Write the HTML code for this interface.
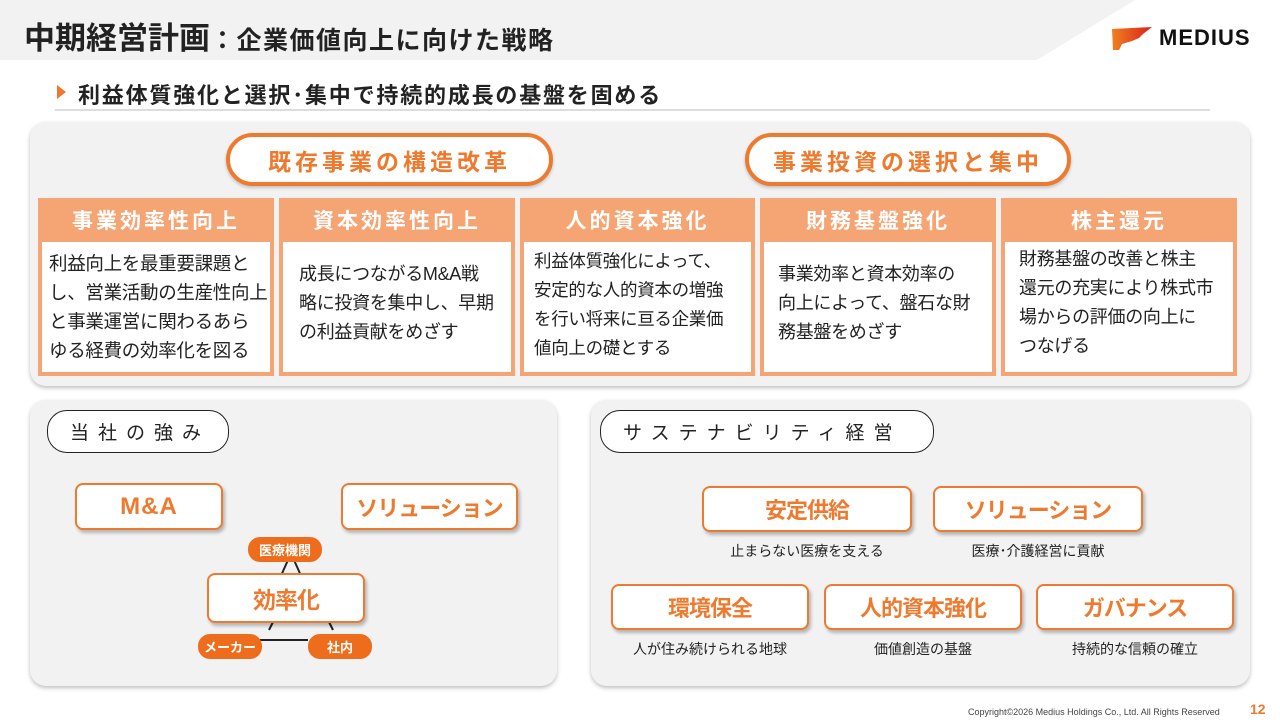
<!DOCTYPE html>
<html><head><meta charset="utf-8"><style>
*{margin:0;padding:0;box-sizing:border-box}
body{width:1280px;height:720px;position:relative;background:#fff;font-family:"Liberation Sans","Noto Sans CJK JP",sans-serif;overflow:hidden;color:#222}
.a{position:absolute}
.card{background:#f2f2f2;border-radius:16px;box-shadow:0 2px 4px rgba(0,0,0,.25)}
.pill{border:4px solid #ee7a2f;border-radius:28px;background:#fff;color:#ee7a2f;font-weight:bold;font-size:23px;letter-spacing:4px;display:flex;align-items:center;justify-content:center;box-shadow:0 2px 3px rgba(0,0,0,.2)}
.col{background:#f5a473;}
.col .h{height:44px;color:#fff;font-weight:bold;font-size:21px;letter-spacing:3px;display:flex;align-items:center;justify-content:center}
.col .b{position:absolute;left:4px;right:4px;top:44px;bottom:4px;background:#fff;font-size:17.5px;line-height:29px;display:flex;align-items:center;padding:0 8px;white-space:nowrap;letter-spacing:-0.3px}
.ob{border:2.5px solid #ee7a2f;border-radius:8px;background:#fff;color:#ee7a2f;font-weight:bold;display:flex;align-items:center;justify-content:center;box-shadow:2px 3px 3px rgba(0,0,0,.25);letter-spacing:-1px;white-space:nowrap}
.tag{border:1.5px solid #222;border-radius:20px;background:#fff;font-size:19px;letter-spacing:9px;display:flex;align-items:center;padding-left:22px}
.of{background:#ee6d1c;color:#fff;font-weight:bold;font-size:13px;border-radius:12px;display:flex;align-items:center;justify-content:center}
.cap{font-size:14px;text-align:center;color:#222}
</style></head><body>
<svg class="a" style="left:0;top:0" width="1280" height="720">
<defs><linearGradient id="g" x1="0" x2="1"><stop offset="0" stop-color="#f08020"/><stop offset="1" stop-color="#d8201c"/></linearGradient></defs>
<polygon points="0,0 1135,0 1037,60 0,60" fill="#f2f2f2"/>
<line x1="55" y1="110" x2="1210" y2="110" stroke="#bbb" stroke-width="1"/>
<polygon points="57,85 66,92 57,99" fill="#ee7a2f"/>
<polygon points="1112,29 1152,27 1143,34 1139,38 1132,41 1122,44 1119,50 1113,50" fill="url(#g)"/>
<path d="M560,480 L595,660 M595,470 L560,650" stroke="#fff" stroke-width="5" opacity=".9"/>
</svg>
<div class="a" style="left:24px;top:13px;font-size:31px;font-weight:bold;color:#222;white-space:nowrap">中期経営計画<span style="font-size:25px;letter-spacing:1.5px">：企業価値向上に向けた戦略</span></div>
<div class="a" style="left:1159px;top:25px;font-size:22px;font-weight:bold;color:#111;letter-spacing:1px">MEDIUS</div>
<div class="a" style="left:78px;top:78px;font-size:22px;font-weight:bold;letter-spacing:1.8px;white-space:nowrap">利益体質強化と選択･集中で持続的成長の基盤を固める</div>

<div class="a card" style="left:30px;top:122px;width:1220px;height:264px"></div>
<div class="a pill" style="left:226px;top:133px;width:327px;height:53px">既存事業の構造改革</div>
<div class="a pill" style="left:745px;top:133px;width:326px;height:53px">事業投資の選択と集中</div>

<div class="a col" style="left:38px;top:198px;width:236px;height:178px"><div class="h">事業効率性向上</div><div class="b" style="font-size:18.5px;padding-left:7px">利益向上を最重要課題と<br>し、営業活動の生産性向上<br>と事業運営に関わるあら<br>ゆる経費の効率化を図る</div></div>
<div class="a col" style="left:279px;top:198px;width:236px;height:178px"><div class="h">資本効率性向上</div><div class="b" style="padding:0 0 8px 16px;font-size:18px">成長につながるM&amp;A戦<br>略に投資を集中し、早期<br>の利益貢献をめざす</div></div>
<div class="a col" style="left:520px;top:198px;width:235px;height:178px"><div class="h">人的資本強化</div><div class="b" style="padding:0 0 4px 10px;font-size:17.5px">利益体質強化によって、<br>安定的な人的資本の増強<br>を行い将来に亘る企業価<br>値向上の礎とする</div></div>
<div class="a col" style="left:760px;top:198px;width:236px;height:178px"><div class="h">財務基盤強化</div><div class="b" style="padding:0 0 8px 14px;font-size:18px">事業効率と資本効率の<br>向上によって、盤石な財<br>務基盤をめざす</div></div>
<div class="a col" style="left:1001px;top:198px;width:236px;height:178px"><div class="h">株主還元</div><div class="b" style="padding:0 0 8px 14px;font-size:18px">財務基盤の改善と株主<br>還元の充実により株式市<br>場からの評価の向上に<br>つなげる</div></div>

<div class="a card" style="left:30px;top:400px;width:527px;height:286px"></div>
<div class="a tag" style="left:47px;top:410px;width:182px;height:43px">当社の強み</div>
<div class="a ob" style="left:75px;top:483px;width:148px;height:47px;font-size:24px;letter-spacing:1px">M&amp;A</div>
<div class="a ob" style="left:341px;top:483px;width:177px;height:47px;font-size:22px">ソリューション</div>
<svg class="a" style="left:190px;top:550px" width="200" height="110"><path d="M58,90 L118,90 M98,10 L90,28 M104,10 L112,28 M137,68 L143,80 M85,68 L79,80" stroke="#222" stroke-width="2" fill="none"/></svg>
<div class="a of" style="left:248px;top:537px;width:74px;height:25px">医療機関</div>
<div class="a ob" style="left:207px;top:573px;width:158px;height:50px;font-size:23px">効率化</div>
<div class="a of" style="left:198px;top:634px;width:64px;height:25px">メーカー</div>
<div class="a of" style="left:308px;top:634px;width:64px;height:25px">社内</div>

<div class="a card" style="left:591px;top:400px;width:659px;height:286px"></div>
<div class="a tag" style="left:600px;top:410px;width:334px;height:43px">サステナビリティ経営</div>
<div class="a ob" style="left:702px;top:486px;width:210px;height:46px;font-size:22px">安定供給</div>
<div class="a ob" style="left:933px;top:486px;width:210px;height:46px;font-size:22px">ソリューション</div>
<div class="a cap" style="left:702px;top:541px;width:210px">止まらない医療を支える</div>
<div class="a cap" style="left:933px;top:541px;width:210px">医療･介護経営に貢献</div>
<div class="a ob" style="left:611px;top:584px;width:198px;height:46px;font-size:22px">環境保全</div>
<div class="a ob" style="left:824px;top:584px;width:198px;height:46px;font-size:22px">人的資本強化</div>
<div class="a ob" style="left:1036px;top:584px;width:198px;height:46px;font-size:22px">ガバナンス</div>
<div class="a cap" style="left:611px;top:639px;width:198px">人が住み続けられる地球</div>
<div class="a cap" style="left:824px;top:639px;width:198px">価値創造の基盤</div>
<div class="a cap" style="left:1036px;top:639px;width:198px">持続的な信頼の確立</div>

<div class="a" style="left:968px;top:707px;font-size:9px;color:#444">Copyright©2026 Medius Holdings Co., Ltd. All Rights Reserved</div>
<div class="a" style="left:1250px;top:701px;font-size:14px;font-weight:bold;color:#ee7a2f">12</div>
</body></html>
